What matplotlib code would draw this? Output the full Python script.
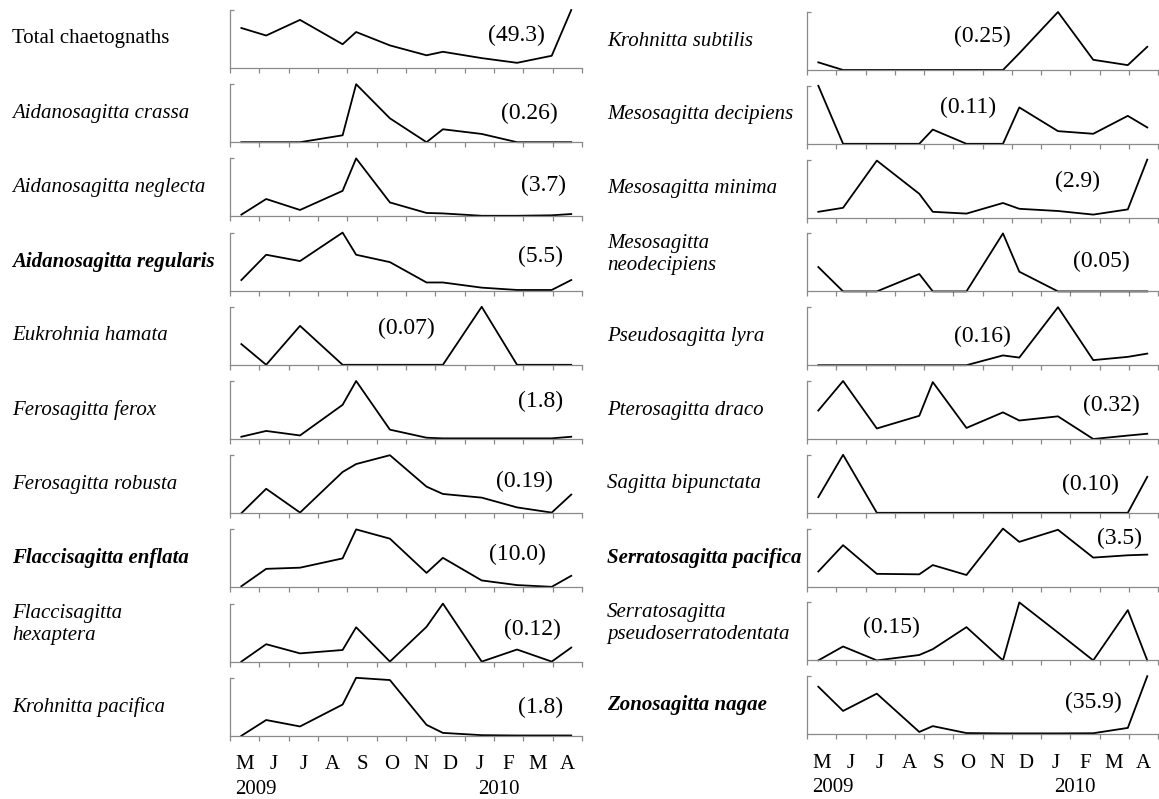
import matplotlib
matplotlib.use("Agg")
import matplotlib.pyplot as plt
import pandas as pd

plt.rcParams["font.family"] = ["Liberation Serif", "DejaVu Serif"]

months = ["M", "J", "J", "A", "S", "O", "N", "D", "J", "F", "M", "A"]
years = ["2009", "2010"]
sample_dates = [
    "2009-05-13", "2009-06-08", "2009-07-13", "2009-08-27", "2009-09-10", "2009-10-15",
    "2009-11-22", "2009-12-09", "2010-01-19", "2010-02-23", "2010-03-31", "2010-04-20",
]

# abundance per sampling date (max value shown in brackets)
total_chaetognaths = [34.0, 27.6, 40.9, 20.2, 30.6, 19.2, 10.8, 13.8, 8.4, 4.4, 10.4, 49.3]
a_crassa = [0, 0, 0, 0.031, 0.26, 0.107, 0, 0.058, 0.037, 0, 0, 0]
a_neglecta = [0.11, 1.11, 0.41, 1.63, 3.7, 0.89, 0.22, 0.19, 0.04, 0.04, 0.07, 0.15]
a_regularis = [1.0, 3.4, 2.8, 5.5, 3.4, 2.7, 0.77, 0.77, 0.28, 0.06, 0.06, 1.0]
e_hamata = [0.025, 0, 0.047, 0, 0, 0, 0, 0, 0.07, 0, 0, 0]
f_ferox = [0.07, 0.25, 0.11, 1.06, 1.8, 0.29, 0.04, 0.02, 0.02, 0.02, 0.02, 0.07]
f_robusta = [0, 0.080, 0.002, 0.135, 0.161, 0.19, 0.087, 0.063, 0.051, 0.019, 0.002, 0.061]
f_enflata = [0.2, 3.2, 3.4, 5.0, 10.0, 8.4, 2.5, 5.1, 1.2, 0.4, 0.1, 2.0]
f_hexaptera = [0, 0.036, 0.017, 0.024, 0.071, 0, 0.072, 0.12, 0, 0.025, 0, 0.029]
k_pacifica = [0, 0.49, 0.29, 0.97, 1.8, 1.73, 0.34, 0.09, 0.02, 0.01, 0.01, 0.01]
k_subtilis = [0.033, 0, 0, 0, 0, 0, 0, 0.072, 0.25, 0.044, 0.021, 0.10]
m_decipiens = [0.11, 0, 0, 0, 0.027, 0, 0, 0.069, 0.024, 0.019, 0.053, 0.031]
m_minima = [0.29, 0.49, 2.85, 1.19, 0.29, 0.20, 0.73, 0.44, 0.33, 0.15, 0.41, 2.9]
m_neodecipiens = [0.021, 0, 0, 0.015, 0, 0, 0.05, 0.017, 0, 0, 0, 0]
p_lyra = [0, 0, 0, 0, 0, 0, 0.027, 0.021, 0.16, 0.014, 0.023, 0.032]
p_draco = [0.157, 0.32, 0.058, 0.128, 0.314, 0.061, 0.147, 0.102, 0.125, 0, 0.019, 0.029]
s_bipunctata = [0.027, 0.10, 0, 0, 0, 0, 0, 0, 0, 0, 0, 0.062]
s_pacifica = [0.91, 2.5, 0.77, 0.74, 1.3, 0.70, 3.5, 2.7, 3.43, 1.75, 1.89, 1.93]
s_pseudoserratodentata = [0, 0.036, 0, 0.014, 0.029, 0.086, 0, 0.15, 0.072, 0, 0.13, 0]
z_nagae = [29.4, 14.4, 25.1, 1.4, 5.0, 0.7, 0.5, 0.5, 0.5, 0.6, 3.9, 35.9]

left_names = [
    "Total chaetognaths", "Aidanosagitta crassa", "Aidanosagitta neglecta",
    "Aidanosagitta regularis", "Eukrohnia hamata", "Ferosagitta ferox",
    "Ferosagitta robusta", "Flaccisagitta enflata", "Flaccisagitta\nhexaptera",
    "Krohnitta pacifica",
]
right_names = [
    "Krohnitta subtilis", "Mesosagitta decipiens", "Mesosagitta minima",
    "Mesosagitta\nneodecipiens", "Pseudosagitta lyra", "Pterosagitta draco",
    "Sagitta bipunctata", "Serratosagitta pacifica", "Serratosagitta\npseudoserratodentata",
    "Zonosagitta nagae",
]
left_series = [total_chaetognaths, a_crassa, a_neglecta, a_regularis, e_hamata,
               f_ferox, f_robusta, f_enflata, f_hexaptera, k_pacifica]
right_series = [k_subtilis, m_decipiens, m_minima, m_neodecipiens, p_lyra,
                p_draco, s_bipunctata, s_pacifica, s_pseudoserratodentata, z_nagae]
left_max = ["(49.3)", "(0.26)", "(3.7)", "(5.5)", "(0.07)", "(1.8)", "(0.19)", "(10.0)", "(0.12)", "(1.8)"]
right_max = ["(0.25)", "(0.11)", "(2.9)", "(0.05)", "(0.16)", "(0.32)", "(0.10)", "(3.5)", "(0.15)", "(35.9)"]
bold_names = {"Aidanosagitta regularis", "Flaccisagitta enflata",
              "Serratosagitta pacifica", "Zonosagitta nagae"}

# where the bracketed max sits: (month position, axes fraction)
left_note_pos = [(9.75, 0.56), (10.2, 0.49), (10.7, 0.53), (10.6, 0.59), (6.0, 0.63),
                 (10.6, 0.64), (10.05, 0.55), (9.8, 0.57), (10.3, 0.55), (10.6, 0.49)]
right_note_pos = [(6.0, 0.57), (5.5, 0.62), (9.25, 0.63), (10.05, 0.51), (6.0, 0.50),
                  (10.4, 0.58), (9.7, 0.49), (10.7, 0.83), (2.9, 0.56), (9.8, 0.55)]

dates = pd.to_datetime(sample_dates)
xpos = [(d.year - 2009) * 12 + d.month - 5 + (d.day - 1) / d.days_in_month for d in dates]

W, H = 1159, 799
fig = plt.figure(figsize=(W / 100, H / 100), dpi=100)
gray = "#8a8a8a"

columns = [
    (230, 352, 68, 74.2, 12, left_names, left_series, left_max, left_note_pos),
    (807, 351, 70, 73.8, 607, right_names, right_series, right_max, right_note_pos),
]

for x0, w, b0, step, lab_x, names, series, maxes, notes in columns:
    for i, (name, vals, mx, (nx, ny)) in enumerate(zip(names, series, maxes, notes)):
        bottom = b0 + i * step
        ax = fig.add_axes([x0 / W, 1 - bottom / H, w / W, 58 / H])
        ax.plot(xpos, vals, color="black", linewidth=1.3, clip_on=False)
        ax.set_xlim(0, 12)
        ax.set_ylim(0, max(vals))
        for s in ["top", "right"]:
            ax.spines[s].set_visible(False)
        for s in ["left", "bottom"]:
            ax.spines[s].set_color(gray)
            ax.spines[s].set_linewidth(0.9)
        ax.set_xticks(range(13))
        ax.set_xticklabels([])
        ax.set_yticks([max(vals)])
        ax.set_yticklabels([])
        ax.tick_params(axis="x", direction="out", length=3.5, width=0.9, color=gray)
        ax.tick_params(axis="y", direction="in", length=3, width=0.9, color=gray)
        ax.text(nx, ny, mx, transform=ax.get_xaxis_transform(), ha="center",
                va="center", fontsize=17)

        style = "normal" if name == "Total chaetognaths" else "italic"
        weight = "bold" if name in bold_names else "normal"
        yc = 1 - (bottom - 29) / H
        if "\n" in name:
            yc += 8 / H
        fig.text(lab_x / W, yc, name, ha="left", va="center", fontsize=15,
                 style=style, weight=weight)

        if i == len(names) - 1:
            ax.set_xticks([m + 0.5 for m in range(12)], minor=True)
            ax.set_xticklabels(months, minor=True, fontsize=15)
            ax.tick_params(axis="x", which="minor", length=0, pad=14)
            ax.text(0.18, -0.92, years[0], transform=ax.get_xaxis_transform(),
                    ha="left", va="center", fontsize=15)
            ax.text(8.45, -0.92, years[1], transform=ax.get_xaxis_transform(),
                    ha="left", va="center", fontsize=15)

fig.savefig("out.png", dpi=100)
